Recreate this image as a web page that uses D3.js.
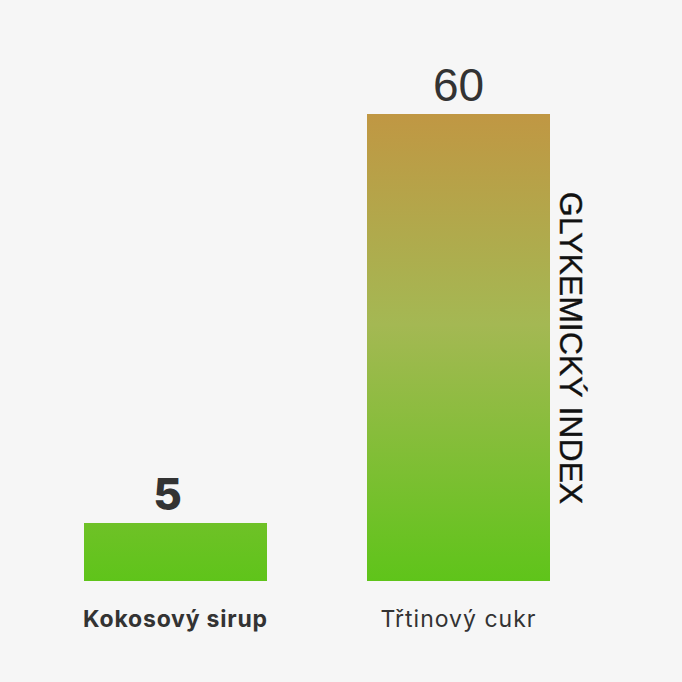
<!DOCTYPE html>
<html><head><meta charset="utf-8">
<script src="https://cdn.jsdelivr.net/npm/d3@7"></script>
<style>html,body{margin:0;padding:0;background:#f6f6f6;}</style>
</head><body>
<svg id="c" width="682" height="682"></svg>
<script>
const categories = ["Kokosový sirup", "Třtinový cukr"];
const values = [5, 60];
const valueLabels = ["5", "60"];
const axisTitle = "GLYKEMICKÝ INDEX";

const svg = d3.select("#c");
svg.append("rect").attr("width",682).attr("height",682).attr("fill","#f6f6f6");

const x = d3.scaleBand().domain(categories).range([34, 600]).paddingInner(100/283).paddingOuter(50/283);
const y = d3.scaleLinear().domain([-2.8, 60]).range([581, 114]);

const defs = svg.append("defs");
const g = defs.append("linearGradient").attr("id","grad").attr("gradientUnits","userSpaceOnUse")
  .attr("x1",0).attr("x2",0).attr("y1",y(60)).attr("y2",y(-2.8));
g.append("stop").attr("offset","0%").attr("stop-color","#c09743");
g.append("stop").attr("offset","45%").attr("stop-color","#a4b853");
g.append("stop").attr("offset","100%").attr("stop-color","#5fc41a");

svg.selectAll("rect.bar").data(values).join("rect").attr("class","bar")
  .attr("x",(d,i)=>x(categories[i])).attr("width",x.bandwidth())
  .attr("y",d=>y(d)).attr("height",d=>y(-2.8)-y(d))
  .attr("fill","url(#grad)");

svg.selectAll("text.val").data(values).join("text").attr("class","val")
  .attr("x",(d,i)=>x(categories[i])+x.bandwidth()/2)
  .attr("dx",(d,i)=> i===0 ? -8 : 0)
  .attr("y",d=>y(d)-13)
  .attr("text-anchor","middle")
  .attr("font-family",(d,i)=> i===0 ? "Inter, 'Noto Sans', sans-serif" : "'Liberation Sans', Arial, sans-serif")
  .attr("font-weight",(d,i)=> i===0 ? 800 : 400)
  .attr("font-size",(d,i)=> i===0 ? 44 : 46)
  .attr("fill","#333333")
  .text((d,i)=>valueLabels[i]);

svg.selectAll("text.cat").data(categories).join("text").attr("class","cat")
  .attr("x",d=>x(d)+x.bandwidth()/2)
  .attr("y",627)
  .attr("text-anchor","middle")
  .attr("font-family","Inter, 'Noto Sans', sans-serif")
  .attr("font-weight",(d,i)=> i===0 ? 700 : 400)
  .attr("font-size",23)
  .attr("letter-spacing",(d,i)=> i===0 ? 0.8 : 1)
  .attr("fill","#333333")
  .text(d=>d);

svg.append("text")
  .attr("transform","translate(560,348) rotate(90)")
  .attr("text-anchor","middle")
  .attr("font-family","'Liberation Sans', Arial, sans-serif")
  .attr("font-size",32)
  .attr("fill","#111111")
  .attr("stroke","#111111")
  .attr("stroke-width",0.4)
  .text(axisTitle);
</script>
</body></html>
